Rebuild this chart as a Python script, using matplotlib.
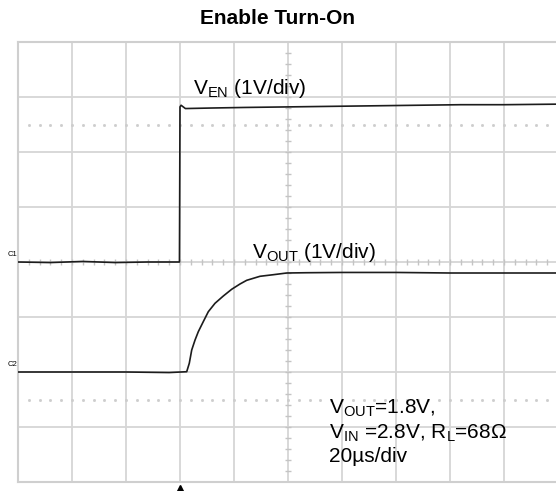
import numpy as np
import matplotlib
matplotlib.use('Agg')
from matplotlib import pyplot as plt

plt.rcParams['font.family'] = ['Liberation Sans', 'DejaVu Sans']
plt.rcParams['mathtext.fontset'] = 'custom'
plt.rcParams['mathtext.rm'] = 'Liberation Sans'
plt.rcParams['mathtext.it'] = 'Liberation Sans:italic'

# traces, in divisions (x: 0..10, y: 0..8)
ven_t = [0.0, 0.6, 1.2, 1.8, 2.4, 2.99, 3.0, 3.02, 3.1, 3.6, 4.2, 5.0, 5.8, 6.6, 7.4, 8.2, 9.0, 10.0]
ven_v = [4.0, 3.99, 4.01, 3.99, 4.0, 4.0, 6.82, 6.85, 6.79, 6.80, 6.81, 6.82, 6.83, 6.84, 6.85, 6.86, 6.86, 6.87]

vout_t = [0.0, 1.0, 2.0, 2.8, 3.124, 3.172, 3.217, 3.278, 3.339, 3.431, 3.524, 3.648,
          3.80, 3.957, 4.111, 4.235, 4.481, 4.728, 4.976, 5.346, 6.0, 7.0, 8.0, 9.0, 10.0]
vout_v = [2.0, 2.0, 2.0, 1.99, 2.005, 2.158, 2.40, 2.58, 2.733, 2.915, 3.096, 3.249,
          3.38, 3.504, 3.60, 3.667, 3.74, 3.769, 3.80, 3.805, 3.81, 3.81, 3.80, 3.80, 3.80]

fig = plt.figure(figsize=(5.56, 4.91), dpi=100)
ax = fig.add_axes([18 / 556, 9 / 491, 540 / 556, 440 / 491])
ax.set_xlim(0, 10)
ax.set_ylim(0, 8)
ax.set_xticks([])
ax.set_yticks([])
for s in ax.spines.values():
    s.set_color('#cfcfcf')
    s.set_linewidth(1.5)

grid_c = '#d6d6d6'
for gx in range(1, 10):
    ax.axvline(gx, color=grid_c, lw=1.3, zorder=1)
for gy in range(1, 8):
    ax.axhline(gy, color=grid_c, lw=1.3, zorder=1)

# minor ticks on the centre lines
fine = np.arange(0.2, 10, 0.2)
ax.plot(fine, [4] * len(fine), ls='none', marker='|', ms=5, mew=1.0, color='#c4c4c4', zorder=1)
fine_y = np.arange(0.2, 8, 0.2)
ax.plot([5] * len(fine_y), fine_y, ls='none', marker='_', ms=5, mew=1.0, color='#c4c4c4', zorder=1)

# dotted cursor lines
for cy in [6.5, 1.5]:
    ax.plot(fine, [cy] * len(fine), ls='none', marker='s', ms=1.0, color='#cdcdcd', zorder=1)

ax.plot(ven_t, ven_v, color='#1c1c1c', lw=1.2, zorder=3)
ax.plot(vout_t, vout_v, color='#1c1c1c', lw=1.2, zorder=3)

fs = 15
ax.text(3.24, 7.06, r'V$_{\mathrm{EN}}$ (1V/div)', fontsize=fs, va='baseline')
ax.text(4.33, 4.07, r'V$_{\mathrm{OUT}}$ (1V/div)', fontsize=fs, va='baseline')
ax.text(5.76, 1.24, r'V$_{\mathrm{OUT}}$=1.8V,', fontsize=fs, va='baseline')
ax.text(5.76, 0.78, r'V$_{\mathrm{IN}}$ =2.8V, R$_{\mathrm{L}}$=68Ω', fontsize=fs, va='baseline')
ax.text(5.76, 0.36, '20µs/div', fontsize=fs, va='baseline')

# channel markers and trigger arrow
ax.text(-0.19, 4.07, 'C1', fontsize=5.5, ha='left', va='bottom', clip_on=False)
ax.text(-0.19, 2.07, 'C2', fontsize=5.5, ha='left', va='bottom', clip_on=False)
ax.plot([3.0], [-0.1], marker='^', ms=4, color='black', clip_on=False)

fig.text(0.5, 1 - 18 / 491, 'Enable Turn-On', fontsize=15, fontweight='bold',
         ha='center', va='center')

plt.savefig('out.png', dpi=100)
